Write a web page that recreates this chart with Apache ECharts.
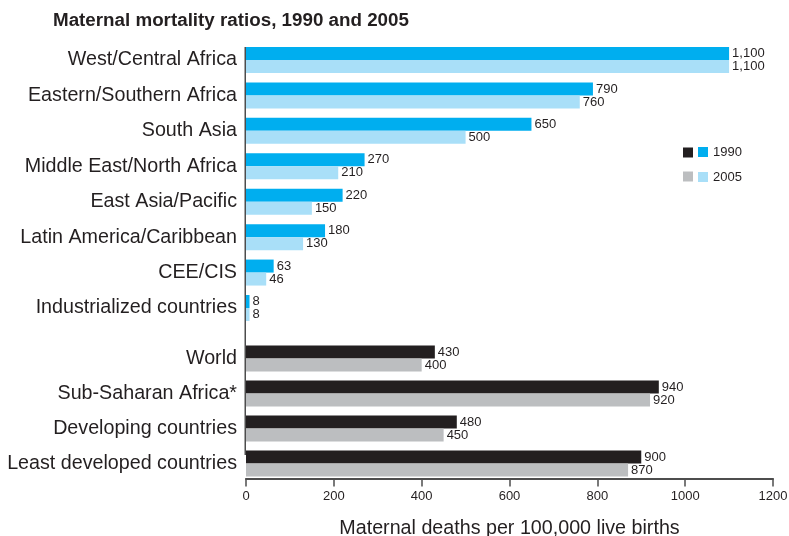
<!DOCTYPE html>
<html>
<head>
<meta charset="utf-8">
<script src="https://cdn.jsdelivr.net/npm/echarts@6/dist/echarts.min.js"></script>
<style>
html,body{margin:0;padding:0;background:#fff;}
#chart{width:789px;height:536px;}
</style>
</head>
<body>
<div id="chart"></div>
<script>
// ---- Data ----
const regionCategories = ['West/Central Africa','Eastern/Southern Africa','South Asia','Middle East/North Africa','East Asia/Pacific','Latin America/Caribbean','CEE/CIS','Industrialized countries'];
const region1990 = [1100, 790, 650, 270, 220, 180, 63, 8];
const region2005 = [1100, 760, 500, 210, 150, 130, 46, 8];
const groupCategories = ['World','Sub-Saharan Africa*','Developing countries','Least developed countries'];
const group1990 = [430, 940, 480, 900];
const group2005 = [400, 920, 450, 870];
const xMin = 0, xMax = 1200, xInterval = 200;

// ---- Styles ----
const FONT = '"Liberation Sans", Arial, Helvetica, sans-serif';
const TXT = '#231f20';
const C_BLUE = '#00aeef', C_LBLUE = '#a9dff8', C_BLACK = '#231f20', C_GRAY = '#bcbec0';
const AXIS = '#4d4d4d';

const topGrid = {left: 246, right: 16, top: 42.3, height: 283.4, outerBoundsMode: 'none', containLabel: false};
const botGrid = {left: 246, right: 16, top: 341, height: 140, outerBoundsMode: 'none', containLabel: false};

const fmt = v => v.toLocaleString('en-US');
const barLabel = {show: true, position: 'right', distance: 3, fontSize: 13, color: TXT, fontFamily: FONT,
  formatter: p => fmt(p.value)};

function bar(name, data, color, idx) {
  return {name, type: 'bar', data, xAxisIndex: idx, yAxisIndex: idx, barWidth: 13, barGap: '0%',
    itemStyle: {color}, label: barLabel, emphasis: {disabled: true}, silent: true};
}

function catAxis(data, idx) {
  return {type: 'category', gridIndex: idx, data, inverse: true,
    axisLine: {show: false}, axisTick: {show: false},
    axisLabel: {fontSize: 19.7, color: TXT, fontFamily: FONT, margin: 9}};
}

const chart = echarts.init(document.getElementById('chart'), null, {renderer: 'canvas'});
chart.setOption({
  animation: false,
  backgroundColor: '#fff',
  title: {text: 'Maternal mortality ratios, 1990 and 2005', left: 53, top: 11, padding: 0,
    textStyle: {fontSize: 18.8, fontWeight: 'bold', color: TXT, fontFamily: FONT}},
  legend: [
    {data: ['1990 (aggregates)', '2005 (aggregates)'], left: 683, top: 147.5, orient: 'vertical', padding: 0,
      icon: 'rect', itemWidth: 10, itemHeight: 10, itemGap: 14, selectedMode: false,
      formatter: () => '', textStyle: {fontSize: 13, lineHeight: 10, fontFamily: FONT}},
    {data: ['1990', '2005'], left: 698, top: 145.5, orient: 'vertical', padding: 0,
      icon: 'rect', itemWidth: 10, itemHeight: 10, itemGap: 12, itemTextGap: 5, selectedMode: false,
      textStyle: {fontSize: 13, lineHeight: 10, color: TXT, fontFamily: FONT}}
  ],
  grid: [topGrid, botGrid],
  xAxis: [
    {type: 'value', gridIndex: 0, min: xMin, max: xMax, interval: xInterval, show: false},
    {type: 'value', gridIndex: 1, min: xMin, max: xMax, interval: xInterval, offset: -2.5,
      splitLine: {show: false},
      axisLine: {show: true, lineStyle: {color: AXIS, width: 2}},
      axisTick: {show: true, length: 8, lineStyle: {color: AXIS, width: 1.5}},
      axisLabel: {fontSize: 13, color: TXT, fontFamily: FONT, margin: 11, formatter: v => String(v)},
      name: 'Maternal deaths per 100,000 live births', nameLocation: 'middle', nameGap: 40,
      nameTextStyle: {fontSize: 19.7, color: TXT, fontFamily: FONT}}
  ],
  yAxis: [catAxis(regionCategories, 0), catAxis(groupCategories, 1)],
  series: [
    bar('1990', region1990, C_BLUE, 0),
    bar('2005', region2005, C_LBLUE, 0),
    bar('1990 (aggregates)', group1990, C_BLACK, 1),
    bar('2005 (aggregates)', group2005, C_GRAY, 1)
  ],
  graphic: [
    {type: 'line', shape: {x1: 245.25, y1: 47, x2: 245.25, y2: 455}, silent: true,
      style: {stroke: AXIS, lineWidth: 1.5}}
  ]
});
</script>
</body>
</html>
